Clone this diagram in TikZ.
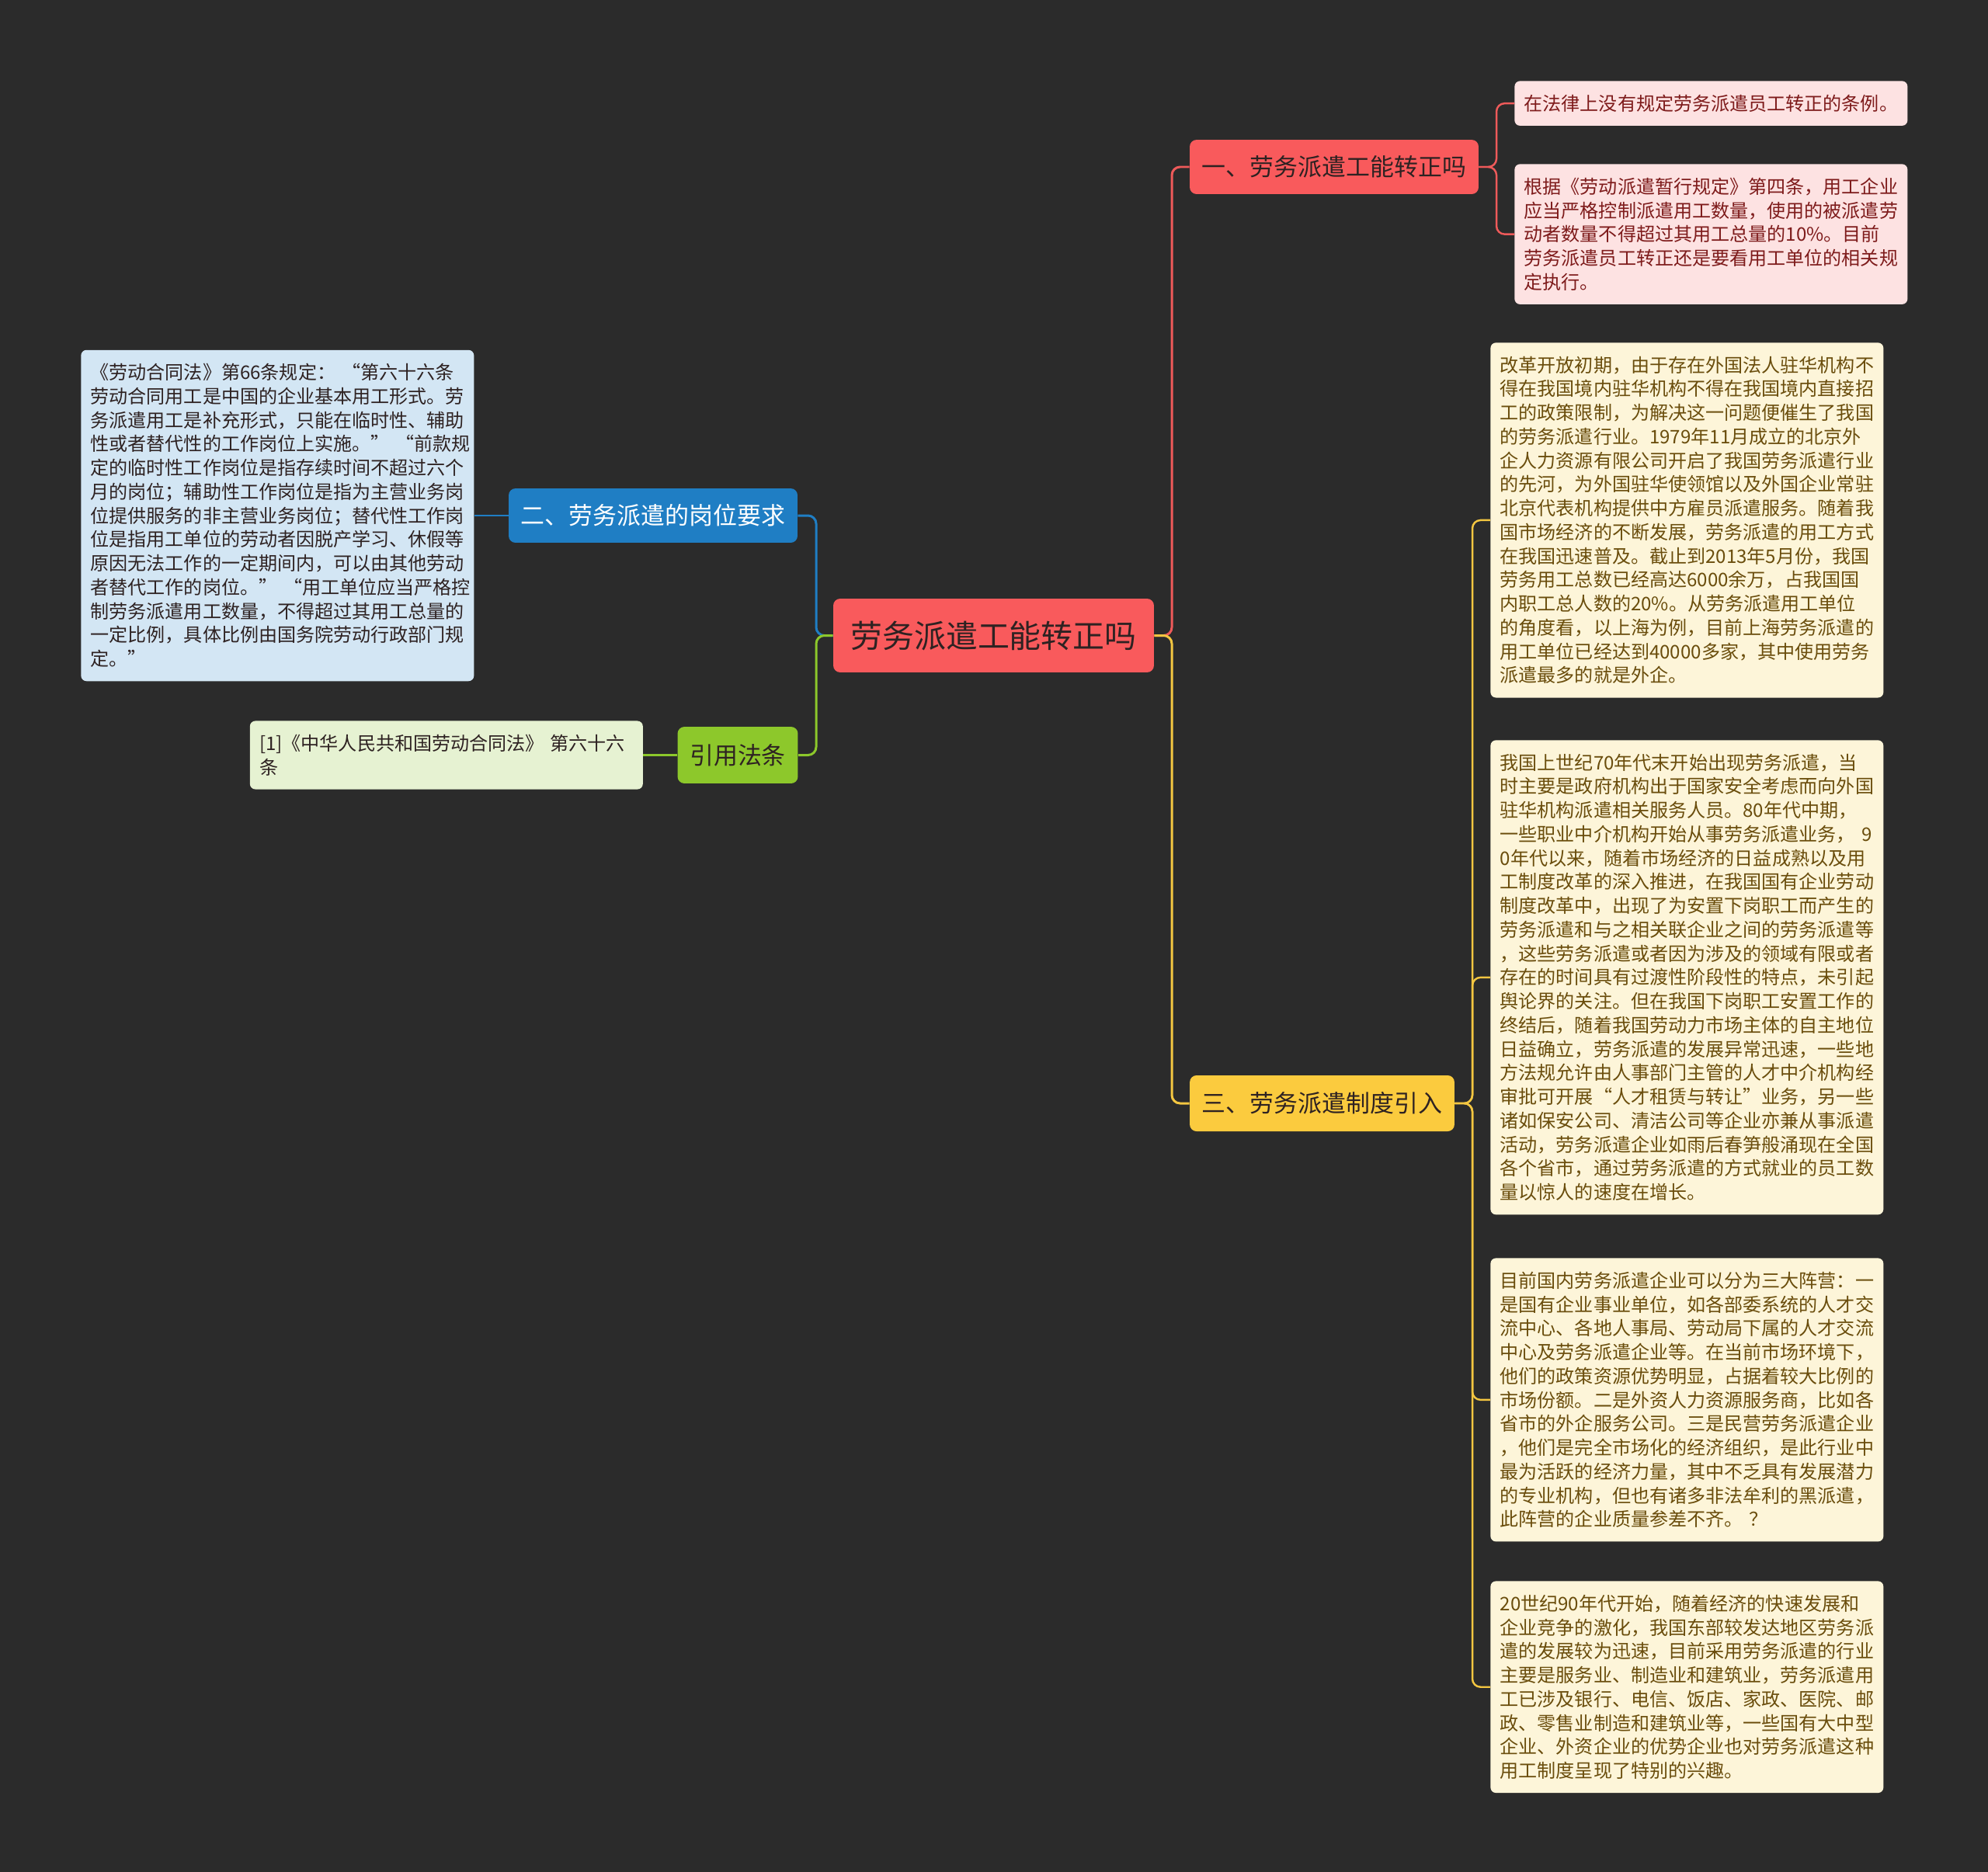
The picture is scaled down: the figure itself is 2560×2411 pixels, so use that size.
\documentclass[tikz,border=0pt]{standalone}
\usepackage{fontspec}
\setmainfont{Noto Sans CJK SC}
\usepackage{tikz}
\usetikzlibrary{positioning}

\definecolor{bgc}{HTML}{2B2B2B}
\definecolor{redfill}{HTML}{F95A5C}
\definecolor{redline}{HTML}{EE5A5A}
\definecolor{redleaf}{HTML}{FDE2E2}
\definecolor{redtext}{HTML}{7E1B1B}
\definecolor{bluefill}{HTML}{1F7EC4}
\definecolor{blueleaf}{HTML}{D3E6F4}
\definecolor{greenfill}{HTML}{8DC82B}
\definecolor{greenleaf}{HTML}{E6F2D2}
\definecolor{yellowfill}{HTML}{FBCB3E}
\definecolor{yellowline}{HTML}{F3C641}
\definecolor{yellowleaf}{HTML}{FDF5D9}
\definecolor{yellowtext}{HTML}{6A4D0C}
\definecolor{darktext}{HTML}{2E2222}

\begin{document}
\begin{tikzpicture}[x=0.02cm, y=-0.02cm,
  topic/.style = {rectangle, rounded corners=5pt, inner sep=0pt, font=\fontsize{17.6pt}{20pt}\selectfont},
  leaf/.style  = {rectangle, rounded corners=4pt, text width=274pt, align=left, inner xsep=7pt, inner ysep=10pt, font=\fontsize{13.7pt}{17.5pt}\selectfont},
  link/.style  = {line width=1.7pt, rounded corners=6pt},
  twig/.style  = {line width=1.4pt, rounded corners=6pt}
]

\fill [bgc] (0,0) rectangle (2560,2411);
\useasboundingbox (0,0) rectangle (2560,2411);

\node [topic, fill=redfill   , text=darktext, minimum width=235pt  , minimum height=54pt  , font=\fontsize{23.3pt}{26pt}\selectfont] (root) at (1279.5,818.5) {劳务派遣工能转正吗};
\node [topic, fill=redfill   , text=darktext, minimum width=211.7pt, minimum height=39.8pt] (n1)   at (1718,215)   {一、劳务派遣工能转正吗};
\node [topic, fill=bluefill  , text=white   , minimum width=211.7pt, minimum height=39.8pt] (n2)   at (841,664)    {二、劳务派遣的岗位要求};
\node [topic, fill=greenfill , text=darktext, minimum width=88.2pt , minimum height=41.5pt] (cite) at (950,972.5)  {引用法条};
\node [topic, fill=yellowfill, text=darktext, minimum width=194pt  , minimum height=41pt  ] (n3)   at (1702.5,1421) {三、劳务派遣制度引入};

\coordinate (t0) at (1509,818.5);
\coordinate (t2) at (1051,818.5);
\coordinate (t1) at (1927,215);
\coordinate (t3) at (1896,1421);

\node [leaf, fill=redleaf, text=redtext, anchor=north west] (l1a) at (1950,104) {在法律上没有规定劳务派遣员工转正的条例。};
\node [leaf, fill=redleaf, text=redtext, anchor=north west] (l1b) at (1950,211) {根据《劳动派遣暂行规定》第四条，用工企业\\应当严格控制派遣用工数量，使用的被派遣劳\\动者数量不得超过其用工总量的10\%。目前\\劳务派遣员工转正还是要看用工单位的相关规\\定执行。};

\node [leaf, fill=blueleaf, text=darktext, left=0.88cm of n2] (l2) {《劳动合同法》第66条规定：~“第六十六条\\劳动合同用工是中国的企业基本用工形式。劳\\务派遣用工是补充形式，只能在临时性、辅助\\性或者替代性的工作岗位上实施。”~“前款规\\定的临时性工作岗位是指存续时间不超过六个\\月的岗位；辅助性工作岗位是指为主营业务岗\\位提供服务的非主营业务岗位；替代性工作岗\\位是指用工单位的劳动者因脱产学习、休假等\\原因无法工作的一定期间内，可以由其他劳动\\者替代工作的岗位。”~“用工单位应当严格控\\制劳务派遣用工数量，不得超过其用工总量的\\一定比例，具体比例由国务院劳动行政部门规\\定。”};
\node [leaf, fill=greenleaf, text=darktext, left=0.88cm of cite] (lc) {[1]《中华人民共和国劳动合同法》~第六十六\\条};

\node [leaf, fill=yellowleaf, text=yellowtext, anchor=north west] (l3a) at (1919,441) {改革开放初期，由于存在外国法人驻华机构不\\得在我国境内驻华机构不得在我国境内直接招\\工的政策限制，为解决这一问题便催生了我国\\的劳务派遣行业。1979年11月成立的北京外\\企人力资源有限公司开启了我国劳务派遣行业\\的先河，为外国驻华使领馆以及外国企业常驻\\北京代表机构提供中方雇员派遣服务。随着我\\国市场经济的不断发展，劳务派遣的用工方式\\在我国迅速普及。截止到2013年5月份，我国\\劳务用工总数已经高达6000余万，占我国国\\内职工总人数的20\%。从劳务派遣用工单位\\的角度看，以上海为例，目前上海劳务派遣的\\用工单位已经达到40000多家，其中使用劳务\\派遣最多的就是外企。};
\node [leaf, fill=yellowleaf, text=yellowtext, anchor=north west] (l3b) at (1919,953) {我国上世纪70年代末开始出现劳务派遣，当\\时主要是政府机构出于国家安全考虑而向外国\\驻华机构派遣相关服务人员。80年代中期，\\一些职业中介机构开始从事劳务派遣业务，~9\\0年代以来，随着市场经济的日益成熟以及用\\工制度改革的深入推进，在我国国有企业劳动\\制度改革中，出现了为安置下岗职工而产生的\\劳务派遣和与之相关联企业之间的劳务派遣等\\，这些劳务派遣或者因为涉及的领域有限或者\\存在的时间具有过渡性阶段性的特点，未引起\\舆论界的关注。但在我国下岗职工安置工作的\\终结后，随着我国劳动力市场主体的自主地位\\日益确立，劳务派遣的发展异常迅速，一些地\\方法规允许由人事部门主管的人才中介机构经\\审批可开展“人才租赁与转让”业务，另一些\\诸如保安公司、清洁公司等企业亦兼从事派遣\\活动，劳务派遣企业如雨后春笋般涌现在全国\\各个省市，通过劳务派遣的方式就业的员工数\\量以惊人的速度在增长。};
\node [leaf, fill=yellowleaf, text=yellowtext, anchor=north west] (l3c) at (1919,1620) {目前国内劳务派遣企业可以分为三大阵营：一\\是国有企业事业单位，如各部委系统的人才交\\流中心、各地人事局、劳动局下属的人才交流\\中心及劳务派遣企业等。在当前市场环境下，\\他们的政策资源优势明显，占据着较大比例的\\市场份额。二是外资人力资源服务商，比如各\\省市的外企服务公司。三是民营劳务派遣企业\\，他们是完全市场化的经济组织，是此行业中\\最为活跃的经济力量，其中不乏具有发展潜力\\的专业机构，但也有诸多非法牟利的黑派遣，\\此阵营的企业质量参差不齐。~？};
\node [leaf, fill=yellowleaf, text=yellowtext, anchor=north west] (l3d) at (1919,2036) {20世纪90年代开始，随着经济的快速发展和\\企业竞争的激化，我国东部较发达地区劳务派\\遣的发展较为迅速，目前采用劳务派遣的行业\\主要是服务业、制造业和建筑业，劳务派遣用\\工已涉及银行、电信、饭店、家政、医院、邮\\政、零售业制造和建筑业等，一些国有大中型\\企业、外资企业的优势企业也对劳务派遣这种\\用工制度呈现了特别的兴趣。};

\path [draw, link, redline   ] (root.east) -- (t0) |- (n1.west);
\path [draw, link, yellowline] (root.east) -- (t0) |- (n3.west);
\path [draw, link, bluefill  ] (root.west) -- (t2) |- (n2.east);
\path [draw, link, greenfill ] (root.west) -- (t2) |- (cite.east);

\path [draw, twig, bluefill  ] (n2.west)   -- (l2.east);
\path [draw, twig, greenfill ] (cite.west) -- (lc.east);

\path [draw, twig, redline   ] (n1.east) -- (t1) |- (l1a.west);
\path [draw, twig, redline   ] (n1.east) -- (t1) |- (l1b.west);

\path [draw, twig, yellowline] (n3.east) -- (t3) |- (l3a.west);
\path [draw, twig, yellowline] (n3.east) -- (t3) |- (l3b.west);
\path [draw, twig, yellowline] (n3.east) -- (t3) |- (l3c.west);
\path [draw, twig, yellowline] (n3.east) -- (t3) |- (l3d.west);

\end{tikzpicture}
\end{document}
